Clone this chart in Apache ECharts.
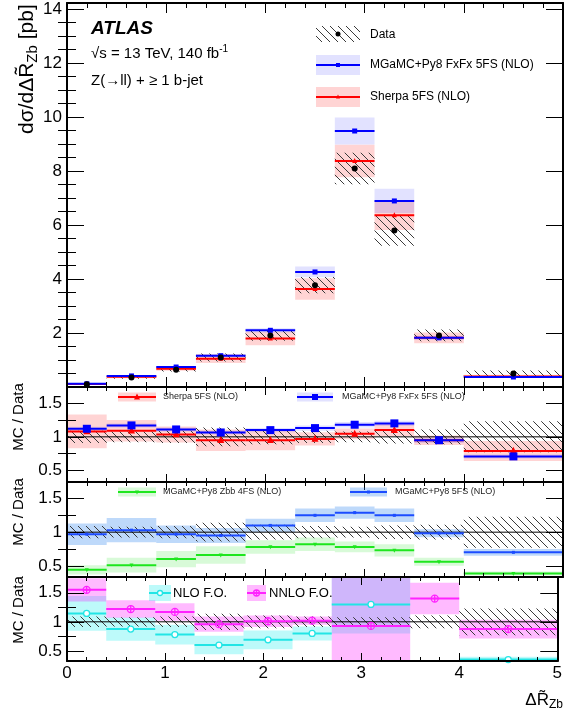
<!DOCTYPE html>
<html><head><meta charset="utf-8">
<script src="https://cdn.jsdelivr.net/npm/echarts@6/dist/echarts.min.js"></script>
<style>html,body{margin:0;padding:0;background:#fff}#c{width:565px;height:717px}</style>
</head><body><div id="c"></div>
<script>
// ---------------- data ----------------
const binEdges   = [0, 0.4, 0.9, 1.3, 1.8, 2.3, 2.7, 3.1, 3.5, 4.0, 5.0];
const binEdgesFO = [0, 0.4, 0.9, 1.3, 1.8, 2.3, 2.7, 3.5, 4.0, 5.0];

// main panel: dsigma/dDeltaR [pb]
const dataXsec      = [0.10, 0.35, 0.64, 1.09, 1.91, 3.77, 8.09, 5.80, 1.91, 0.50];
const dataXsecErr   = [0.02, 0.04, 0.07, 0.15, 0.20, 0.30, 0.58, 0.57, 0.22, 0.11];
const fxfxXsec      = [0.12, 0.41, 0.74, 1.16, 2.10, 4.26, 9.48, 6.89, 1.82, 0.37];
const fxfxXsecErr   = [0.01, 0.02, 0.04, 0.05, 0.08, 0.20, 0.50, 0.45, 0.08, 0.02];
const sherpaXsec    = [0.11, 0.38, 0.68, 1.05, 1.80, 3.63, 8.37, 6.36, 1.82, 0.39];
const sherpaXsecErr = [0.03, 0.06, 0.08, 0.16, 0.25, 0.40, 0.60, 0.55, 0.20, 0.06];

// data relative uncertainty (ratio panels)
const dataRelErr   = [0.09, 0.08, 0.09, 0.14, 0.11, 0.09, 0.08, 0.10, 0.11, 0.23];
const dataRelErrFO = [0.09, 0.08, 0.09, 0.14, 0.11, 0.09, 0.08, 0.11, 0.23];

// ratio panel 1
const fxfxRatio      = [1.12, 1.17, 1.11, 1.065, 1.10, 1.13, 1.18, 1.20, 0.95, 0.71];
const fxfxRatioErr   = [0.03, 0.03, 0.03, 0.03, 0.03, 0.04, 0.04, 0.04, 0.04, 0.03];
const sherpaRatio    = [1.08, 1.09, 1.035, 0.95, 0.95, 0.97, 1.045, 1.10, 0.95, 0.79];
const sherpaRatioErr = [0.25, 0.16, 0.12, 0.16, 0.15, 0.10, 0.08, 0.09, 0.07, 0.15];

// ratio panel 2
const mg5fsRatio    = [0.97, 1.03, 0.97, 0.95, 1.10, 1.25, 1.29, 1.25, 0.985, 0.70];
const mg5fsRatioErr = [0.16, 0.18, 0.13, 0.11, 0.10, 0.10, 0.09, 0.10, 0.06, 0.05];
const zbbRatio      = [0.44, 0.51, 0.60, 0.66, 0.78, 0.82, 0.78, 0.73, 0.56, 0.385];
const zbbRatioErr   = [0.07, 0.11, 0.12, 0.13, 0.10, 0.10, 0.08, 0.09, 0.06, 0.03];

// ratio panel 3 (fixed order)
const nloRatio     = [1.145, 0.875, 0.78, 0.60, 0.69, 0.80, 1.30, null, 0.35];
const nloRatioErr  = [0.30, 0.20, 0.17, 0.16, 0.16, 0.12, 0.50, null, 0.05];
const nnloRatio    = [1.55, 1.22, 1.17, 0.96, 1.01, 1.02, 0.93, 1.40, 0.875];
const nnloRatioErr = [0.20, 0.15, 0.15, 0.13, 0.10, 0.07, 0.90, 0.27, 0.16];

const unityLine = [[0, 1], [5, 1]];

// ticks
const mainYMajor  = [0, 2, 4, 6, 8, 10, 12, 14];
const mainYMinor  = [0.5,1,1.5,2.5,3,3.5,4.5,5,5.5,6.5,7,7.5,8.5,9,9.5,10.5,11,11.5,12.5,13,13.5];
const mainYLabels = [2, 4, 6, 8, 10, 12, 14];
const ratioYMajor = [0.5, 1, 1.5];
const ratioYMinor = [0.75, 1.25];
const ratioYLabels = [0.5, 1, 1.5];

// ---------------- styling ----------------
const FONT = "'Liberation Sans', Arial, Helvetica, sans-serif";
const C = {
  red:'#ff0000', redBand:'rgba(255,0,0,0.17)',
  blue:'#0000ff', blueBand:'rgba(60,60,255,0.15)',
  green:'#1ee61e', greenBand:'rgba(40,230,40,0.18)',
  b5:'#1c4cff', b5Band:'rgba(40,130,240,0.30)',
  cyan:'#22e5e5', cyanBand:'rgba(0,235,235,0.26)',
  mag:'#ff22ff', magBand:'rgba(255,0,255,0.27)'
};

function makeHatch(color, step){
  const c = document.createElement('canvas'); c.width = step; c.height = step;
  const g = c.getContext('2d'); g.strokeStyle = color; g.lineWidth = 1;
  g.beginPath();
  g.moveTo(-1,-1); g.lineTo(step+1, step+1);
  g.moveTo(-1, step-1); g.lineTo(1, step+1);
  g.moveTo(step-1, -1); g.lineTo(step+1, 1);
  g.stroke();
  return c;
}
const hatchCanvas = makeHatch('#3a3a3a', 8);
const HATCH = {image: hatchCanvas, repeat: 'repeat'};

// layout of the four panels
const GL = 67, GW = 496;
const panels = [
  {top:3,   height:384, min:0,    max:14.22},
  {top:387, height:95,  min:0.33, max:1.74},
  {top:482, height:95,  min:0.334,max:1.745},
  {top:577, height:84,  min:0.326,max:1.771}
];

const grid = [], xAxis = [], yAxis = [];
panels.forEach((p, g) => {
  grid.push({left:GL, width:GW, top:p.top, height:p.height, show:false, containLabel:false});
  const isMain = g === 0, isLast = g === 3;
  const axLine = {show:true, onZero:false, lineStyle:{color:'#000', width:2}};
  ['bottom','top'].forEach(pos => {
    xAxis.push({
      gridIndex:g, type:'value', min:0, max:5, interval:1, position:pos, z:10,
      axisLine:axLine,
      axisTick:{show:true, inside:true, length:isMain?10:8, lineStyle:{color:'#000', width:1}},
      minorTick:{show:true, splitNumber:5, length:isMain?5:4, lineStyle:{color:'#000', width:1}},
      splitLine:{show:false}, minorSplitLine:{show:false},
      axisLabel:{show: isLast && pos==='bottom', color:'#000', fontSize:17, fontFamily:FONT, margin:4}
    });
  });
  const maj = isMain ? mainYMajor : ratioYMajor;
  const mnr = isMain ? mainYMinor : ratioYMinor;
  const lab = isMain ? mainYLabels : ratioYLabels;
  ['left','right'].forEach(pos => {
    yAxis.push({
      gridIndex:g, type:'value', min:p.min, max:p.max, position:pos, z:10,
      axisLine:axLine,
      axisTick:{show:true, inside:true, length:17, customValues:maj, lineStyle:{color:'#000', width:1}},
      splitLine:{show:false},
      axisLabel:{show: pos==='left', customValues:lab, color:'#000', fontSize:17, fontFamily:FONT, margin:5}
    });
    yAxis.push({
      gridIndex:g, type:'value', min:p.min, max:p.max, position:pos, z:10,
      axisLine:{show:false},
      axisTick:{show:true, inside:true, length:9, customValues:mnr, lineStyle:{color:'#000', width:1}},
      splitLine:{show:false},
      axisLabel:{show:false}
    });
  });
});

function markerEl(type, cx, cy, s, color){
  const h = s/2;
  switch(type){
    case 'circle': return [{type:'circle', shape:{cx, cy, r:h}, style:{fill:color}}];
    case 'square': return [{type:'rect', shape:{x:cx-h, y:cy-h, width:s, height:s}, style:{fill:color}}];
    case 'triangle': return [{type:'polygon', shape:{points:[[cx,cy-s*0.6],[cx-h,cy+s*0.4],[cx+h,cy+s*0.4]]}, style:{fill:color}}];
    case 'tridown': return [{type:'polygon', shape:{points:[[cx,cy+s*0.6],[cx-h,cy-s*0.4],[cx+h,cy-s*0.4]]}, style:{fill:color}}];
    case 'ocircle': return [{type:'circle', shape:{cx, cy, r:h}, style:{fill:'#fff', stroke:color, lineWidth:1.3}}];
    case 'ocross': return [
      {type:'circle', shape:{cx, cy, r:h}, style:{fill:'none', stroke:color, lineWidth:1.3}},
      {type:'line', shape:{x1:cx-h, y1:cy, x2:cx+h, y2:cy}, style:{stroke:color, lineWidth:1.3}},
      {type:'line', shape:{x1:cx, y1:cy-h, x2:cx, y2:cy+h}, style:{stroke:color, lineWidth:1.3}}];
  }
  return [];
}

function hist(o){
  const data = [];
  for (let i = 0; i < o.edges.length - 1; i++){
    const v = o.vals ? o.vals[i] : o.center;
    const e = o.errs ? o.errs[i] : 0;
    if (v == null || e == null) continue;
    data.push([o.edges[i], o.edges[i+1], v, e]);
  }
  return {
    type:'custom', xAxisIndex:2*o.g, yAxisIndex:4*o.g, z:o.z, silent:true, animation:false,
    data,
    renderItem(params, api){
      const x0 = api.value(0), x1 = api.value(1), v = api.value(2), e = api.value(3);
      const cs = params.coordSys;
      const box = {x:cs.x, y:cs.y, width:cs.width, height:cs.height};
      const ch = [];
      if (o.band){
        const a = api.coord([x0, v+e]), b = api.coord([x1, v-e]);
        const r = echarts.graphic.clipRectByRect({x:a[0], y:a[1], width:b[0]-a[0], height:b[1]-a[1]}, box);
        if (r) ch.push({type:'rect', shape:r, style:{fill:o.band}});
      }
      const a = api.coord([x0, v]), b = api.coord([x1, v]);
      const inside = a[1] >= cs.y - 1 && a[1] <= cs.y + cs.height + 1;
      if (o.line && inside){
        ch.push({type:'line', shape:{x1:a[0], y1:a[1], x2:b[0], y2:b[1]}, style:{stroke:o.line, lineWidth:o.lw || 2}});
      }
      if (o.marker && inside){
        markerEl(o.marker, (a[0]+b[0])/2, a[1], o.ms, o.mc).forEach(m => ch.push(m));
      }
      return {type:'group', children:ch};
    }
  };
}

function unity(g){
  return {type:'line', xAxisIndex:2*g, yAxisIndex:4*g, data:unityLine, symbol:'none', silent:true, animation:false,
          lineStyle:{color:'#000', width:1}, z:3};
}

const series = [
  // main
  hist({g:0, edges:binEdges, vals:sherpaXsec, errs:sherpaXsecErr, band:C.redBand, z:1}),
  hist({g:0, edges:binEdges, vals:fxfxXsec, errs:fxfxXsecErr, band:C.blueBand, z:1}),
  hist({g:0, edges:binEdges, vals:dataXsec, errs:dataXsecErr, band:HATCH, z:2}),
  hist({g:0, edges:binEdges, vals:sherpaXsec, line:C.red, lw:2, marker:'triangle', ms:5, mc:C.red, z:3}),
  hist({g:0, edges:binEdges, vals:fxfxXsec, line:C.blue, lw:2, marker:'square', ms:5, mc:C.blue, z:4}),
  hist({g:0, edges:binEdges, vals:dataXsec, marker:'circle', ms:6, mc:'#000', z:5}),
  // ratio 1
  hist({g:1, edges:binEdges, vals:sherpaRatio, errs:sherpaRatioErr, band:C.redBand, z:1}),
  hist({g:1, edges:binEdges, vals:fxfxRatio, errs:fxfxRatioErr, band:C.blueBand, z:1}),
  hist({g:1, edges:binEdges, center:1, errs:dataRelErr, band:HATCH, z:2}),
  unity(1),
  hist({g:1, edges:binEdges, vals:sherpaRatio, line:C.red, lw:2, marker:'triangle', ms:7, mc:C.red, z:4}),
  hist({g:1, edges:binEdges, vals:fxfxRatio, line:C.blue, lw:2, marker:'square', ms:8, mc:C.blue, z:5}),
  // ratio 2
  hist({g:2, edges:binEdges, vals:zbbRatio, errs:zbbRatioErr, band:C.greenBand, z:1}),
  hist({g:2, edges:binEdges, vals:mg5fsRatio, errs:mg5fsRatioErr, band:C.b5Band, z:1}),
  hist({g:2, edges:binEdges, center:1, errs:dataRelErr, band:HATCH, z:2}),
  unity(2),
  hist({g:2, edges:binEdges, vals:zbbRatio, line:C.green, lw:2, marker:'tridown', ms:4, mc:C.green, z:4}),
  hist({g:2, edges:binEdges, vals:mg5fsRatio, line:C.b5, lw:2, marker:'square', ms:3, mc:C.b5, z:5}),
  // ratio 3
  hist({g:3, edges:binEdgesFO, vals:nloRatio, errs:nloRatioErr, band:C.cyanBand, z:1}),
  hist({g:3, edges:binEdgesFO, vals:nnloRatio, errs:nnloRatioErr, band:C.magBand, z:1}),
  hist({g:3, edges:binEdgesFO, center:1, errs:dataRelErrFO, band:HATCH, z:2}),
  unity(3),
  hist({g:3, edges:binEdgesFO, vals:nloRatio, line:C.cyan, lw:2, marker:'ocircle', ms:6, mc:C.cyan, z:4}),
  hist({g:3, edges:binEdgesFO, vals:nnloRatio, line:C.mag, lw:2, marker:'ocross', ms:7, mc:C.mag, z:5})
];

// ---------------- text helpers ----------------
const mctx = document.createElement('canvas').getContext('2d');
function fontStr(p){ return `${p.st||'normal'} ${p.w||'normal'} ${p.s}px ${FONT}`; }
function tw(p){ mctx.font = fontStr(p); return mctx.measureText(p.t).width; }
function textRun(parts, x, y, opt){
  opt = opt || {};
  const total = parts.reduce((a,p)=>a+tw(p),0);
  let cx = opt.align==='right' ? -total : (opt.align==='center' ? -total/2 : 0);
  const children = [];
  parts.forEach(p => {
    children.push({type:'text', x:cx, y:p.dy||0, style:{text:p.t, font:fontStr(p), fill:opt.color||'#000',
      align:'left', verticalAlign:'middle', textAlign:'left', textVerticalAlign:'middle'}});
    cx += tw(p);
  });
  return {type:'group', x, y, rotation:opt.rot||0, children, z:100};
}
function txt(t, x, y, s, extra){ return textRun([Object.assign({t, s}, extra||{})], x, y, extra); }

function legendEntry(x0, x1, yc, h, band, lineColor, marker, ms, mc){
  const els = [];
  if (band) els.push({type:'rect', shape:{x:x0, y:yc-h/2, width:x1-x0, height:h}, style:{fill:band}, z:100});
  if (lineColor) els.push({type:'line', shape:{x1:x0, y1:yc, x2:x1, y2:yc}, style:{stroke:lineColor, lineWidth:2}, z:100});
  if (marker) markerEl(marker, (x0+x1)/2, yc, ms, mc).forEach(m => { m.z = 101; els.push(m); });
  return els;
}

const graphics = [];
graphics.push(txt('ATLAS', 91, 29, 19, {w:'bold', st:'italic'}));
graphics.push(textRun([{t:'\u221As = 13 TeV, 140 fb', s:15}, {t:'-1', s:10, dy:-5}], 91, 54));
graphics.push(txt('Z(\u2192ll) + \u2265 1 b-jet', 91, 81, 15));
legendEntry(316, 360, 34, 16, HATCH, null, 'circle', 5, '#000').forEach(e=>graphics.push(e));
graphics.push(txt('Data', 370, 35, 12));
legendEntry(316, 360, 65, 20, C.blueBand, C.blue, 'square', 4, C.blue).forEach(e=>graphics.push(e));
graphics.push(txt('MGaMC+Py8 FxFx 5FS (NLO)', 370, 65, 12));
legendEntry(316, 360, 97, 20, C.redBand, C.red, 'triangle', 4, C.red).forEach(e=>graphics.push(e));
graphics.push(txt('Sherpa 5FS (NLO)', 370, 97, 12));
legendEntry(118, 156, 397, 9, C.redBand, C.red, 'triangle', 6, C.red).forEach(e=>graphics.push(e));
graphics.push(txt('Sherpa 5FS (NLO)', 163, 397, 9, {color:'#222'}));
legendEntry(297, 333, 397, 9, C.blueBand, C.blue, 'square', 6, C.blue).forEach(e=>graphics.push(e));
graphics.push(txt('MGaMC+Py8 FxFx 5FS (NLO)', 342, 397, 9, {color:'#222'}));
legendEntry(118, 156, 492, 9, C.greenBand, C.green, 'tridown', 4, C.green).forEach(e=>graphics.push(e));
graphics.push(txt('MGaMC+Py8 Zbb 4FS (NLO)', 163, 492, 9, {color:'#222'}));
legendEntry(350, 387, 492, 9, C.b5Band, C.b5, 'square', 3, C.b5).forEach(e=>graphics.push(e));
graphics.push(txt('MGaMC+Py8 5FS (NLO)', 395, 492, 9, {color:'#222'}));
legendEntry(149, 171, 593, 16, C.cyanBand, C.cyan, 'ocircle', 5, C.cyan).forEach(e=>graphics.push(e));
graphics.push(txt('NLO F.O.', 173, 593, 13));
legendEntry(247, 266, 593, 16, C.magBand, C.mag, 'ocross', 6, C.mag).forEach(e=>graphics.push(e));
graphics.push(txt('NNLO F.O.', 269, 593, 13));
graphics.push(textRun([{t:'d\u03C3/d\u0394R\u0303', s:21}, {t:'Zb', s:15, dy:6}, {t:' [pb]', s:21}], 27, 134, {rot:Math.PI/2}));
graphics.push(textRun([{t:'MC / Data', s:15}], 19, 417, {rot:Math.PI/2, align:'center'}));
graphics.push(textRun([{t:'MC / Data', s:15}], 19, 512, {rot:Math.PI/2, align:'center'}));
graphics.push(textRun([{t:'MC / Data', s:15}], 19, 610, {rot:Math.PI/2, align:'center'}));
graphics.push(textRun([{t:'\u0394R\u0303', s:17}, {t:'Zb', s:12, dy:5}], 563, 700, {align:'right'}));

const chart = echarts.init(document.getElementById('c'), null, {renderer:'canvas'});
chart.setOption({
  animation:false,
  backgroundColor:'#fff',
  grid, xAxis, yAxis, series,
  graphic:{elements:graphics}
});
</script>
</body></html>
